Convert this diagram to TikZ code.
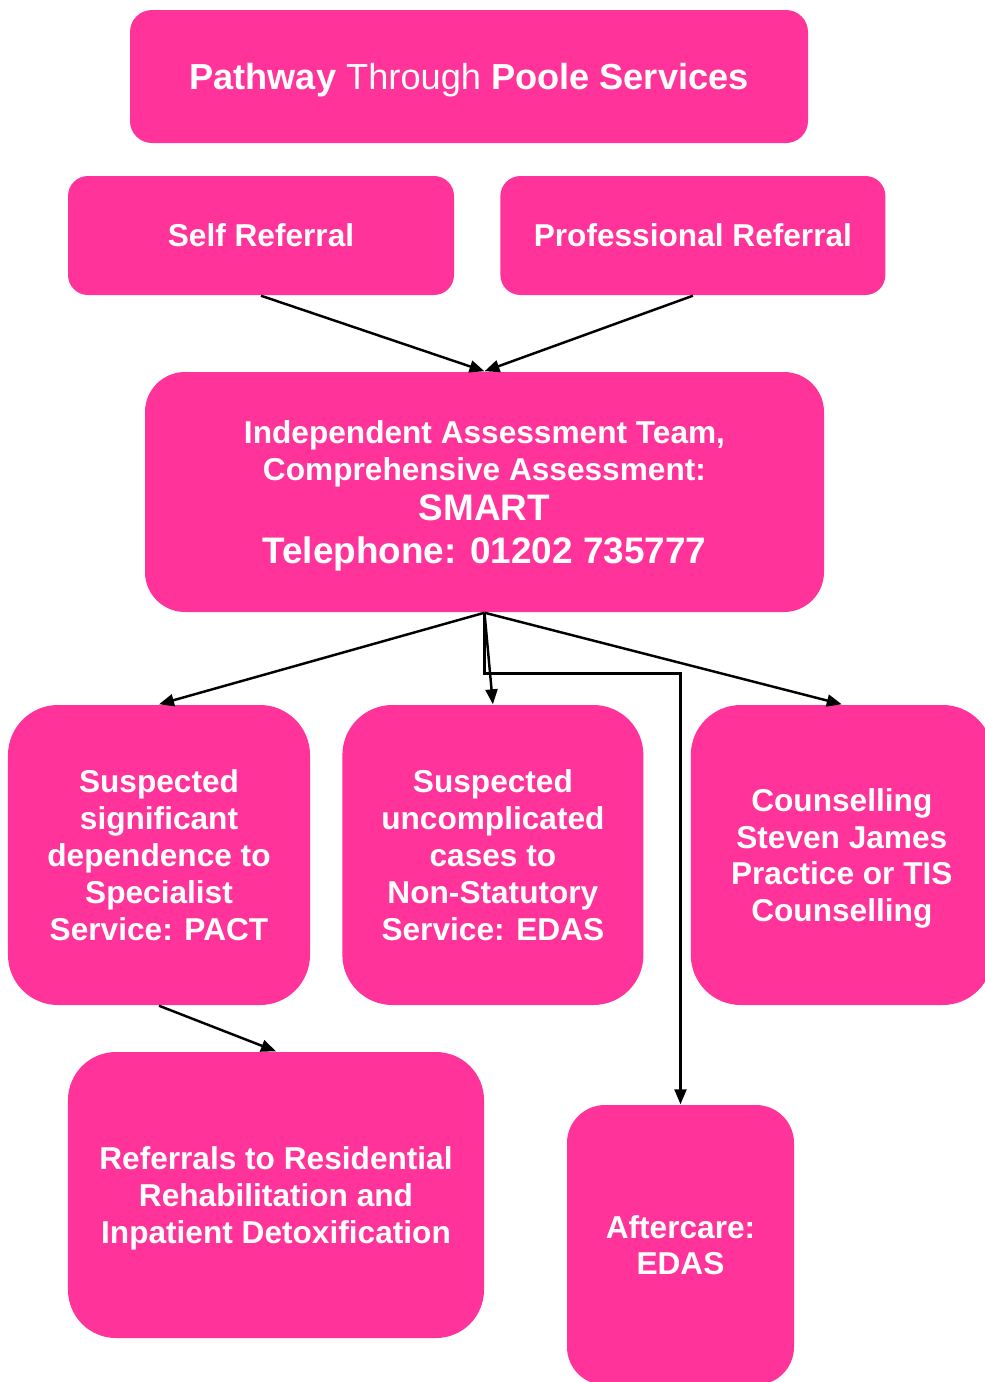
\documentclass[tikz,border=0pt]{standalone}
\usepackage{xcolor}
\usepackage{fontspec}
\setmainfont{Liberation Sans}
\usepackage{tikz}
\usetikzlibrary{arrows.meta, positioning, calc}
\definecolor{poolepink}{RGB}{255,51,153}
\tikzstyle{box} = [rectangle, fill=poolepink, text=white, align=center, inner sep=0pt, text depth=0pt, font=\fontsize{9}{10.5}\selectfont\bfseries]
\tikzstyle{arrow} = [line width=0.7pt, -{Triangle[length=1.5mm,width=1.2mm]}]

\begin{document}
\begin{tikzpicture}
    \useasboundingbox (0,0) rectangle (9.85,-13.82);
    \clip (0,0) rectangle (9.85,-13.82);

    % header and referral routes
    \node[box, minimum width=6.78cm, minimum height=1.33cm, rounded corners=0.22cm, font=\fontsize{10.3}{12}\selectfont\bfseries] (title) at (4.69,-0.765) {Pathway {\mdseries Through} Poole Services};
    \node[box, minimum width=3.86cm, minimum height=1.19cm, rounded corners=0.2cm] (selfref) at (2.61,-2.355) {Self Referral};
    \node[box, minimum width=3.85cm, minimum height=1.19cm, rounded corners=0.2cm, right=0.45cm of selfref] (profref) {Professional Referral};

    % assessment
    \node[box, minimum width=6.79cm, minimum height=2.40cm, rounded corners=0.4cm] (smart) at (4.845,-4.92) {Independent Assessment Team,\\ Comprehensive Assessment:\\[0.9pt] {\fontsize{10.5}{12}\selectfont SMART}\\[1.7pt] {\fontsize{10.5}{12}\selectfont Telephone: 01202 735777}};

    % services
    \node[box, minimum width=3.02cm, minimum height=3.0cm, rounded corners=0.5cm] (pact) at (1.59,-8.55) {Suspected\\ significant\\ dependence to\\ Specialist\\ Service: PACT};
    \node[box, minimum width=3.01cm, minimum height=3.0cm, rounded corners=0.5cm, right=0.31cm of pact] (edas) {Suspected\\ uncomplicated\\ cases to\\ Non-Statutory\\ Service: EDAS};
    \node[box, minimum width=3.02cm, minimum height=3.0cm, rounded corners=0.5cm, right=0.46cm of edas] (couns) {Counselling\\ Steven James\\ Practice or TIS\\ Counselling};

    \node[box, minimum width=4.16cm, minimum height=2.86cm, rounded corners=0.48cm] (resid) at (2.76,-11.95) {Referrals to Residential\\ Rehabilitation and\\ Inpatient Detoxification};
    \node[box, minimum width=2.27cm, minimum height=2.80cm, rounded corners=0.38cm] (aft) at (6.805,-12.45) {Aftercare:\\ EDAS};

    \draw[arrow] (selfref.south) -- (smart.north);
    \draw[arrow] (profref.south) -- (smart.north);
    \draw[arrow] (smart.south) -- (pact.north);
    \draw[arrow] (smart.south) -- (edas.north);
    \draw[arrow] (smart.south) -- (couns.north);
    \draw[arrow] (smart.south) -- ++(0,-0.61) -| (aft.north);
    \draw[arrow] (pact.south) -- (resid.north);
\end{tikzpicture}
\end{document}
